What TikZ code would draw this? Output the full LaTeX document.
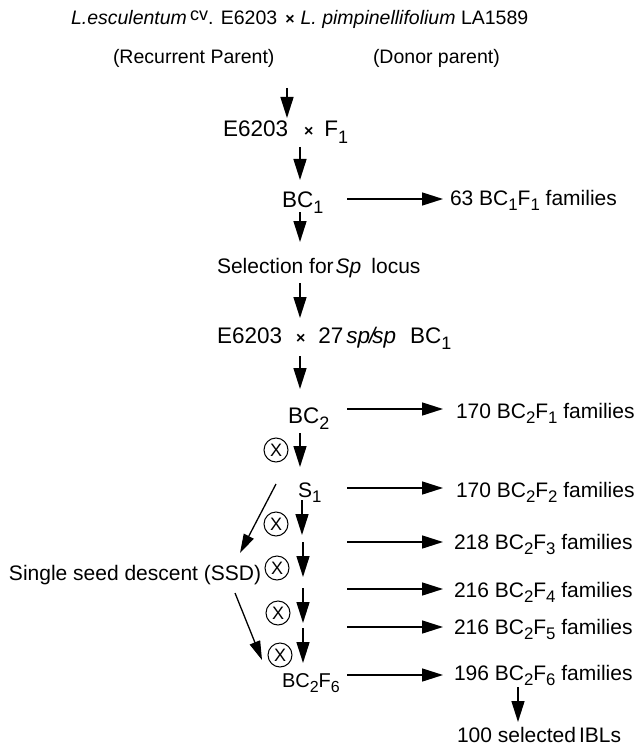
\documentclass[tikz,border=0pt]{standalone}
\usepackage{fontspec}
\setmainfont{Liberation Sans}
\usetikzlibrary{arrows.meta}
\newcommand\lo[1]{\raisebox{-0.27em}{\scalebox{0.8}{#1}}}
\newcommand\fs[1]{\fontsize{#1}{#1}\selectfont}
\newcommand\crs{{\fs{16}\textbf{×}}}
\begin{document}
\begin{tikzpicture}[x=1pt,y=-1pt,
  lbl/.style={anchor=base west, inner sep=0pt, outer sep=0pt},
  toptext/.style={lbl, font=\fs{19.5}},
  midtext/.style={lbl, font=\fs{22.5}},
  famtext/.style={lbl, font=\fs{21}},
  arr/.style={line width=1.5pt, -{Triangle[length=21pt,width=13pt]}},
  diag/.style={line width=1.3pt, -{Triangle[length=19pt,width=11pt]}},
  selfx/.style={circle, draw, line width=1pt, minimum size=24pt, inner sep=0pt, font=\fs{18}}]
\useasboundingbox (0,0) rectangle (634,746);

% texts
\node[toptext] (t1) at (71,25) {\textit{L.esculentum}\,\raisebox{4pt}{\fs{18}cv}. E6203\hspace{8pt}\crs\hspace{6pt}\textit{L. pimpinellifolium} LA1589};
\node[toptext] (rp) at (113,64) {(Recurrent Parent)};
\node[toptext] (dp) at (373,64) {(Donor parent)};
\node[midtext] (ef) at (223,137) {E6203\hspace{16pt}\crs\hspace{11pt}F\lo{1}};
\node[midtext] (bc1) at (282,207) {BC\lo{1}};
\node[famtext] (f1) at (450,205) {63 BC\lo{1}F\lo{1} families};
\node[famtext] (sel) at (217,273) {Selection for\hspace{2pt}\textit{Sp}\hspace{10pt}locus};
\node[midtext] (cr) at (217,343) {E6203\hspace{14pt}\crs\hspace{13pt}27\hspace{3pt}\textit{sp\kern-1pt/\kern-3pt sp}\hspace{14pt}BC\lo{1}};
\node[midtext] (bc2) at (288,423) {BC\lo{2}};
\node[famtext] (f2) at (456,418) {170 BC\lo{2}F\lo{1} families};
\node[famtext] (s1) at (298,497) {S\lo{1}};
\node[famtext] (f3) at (456,497) {170 BC\lo{2}F\lo{2} families};
\node[famtext] (f4) at (454,549) {218 BC\lo{2}F\lo{3} families};
\node[famtext] (ssd) at (9,580) {Single seed descent (SSD)};
\node[famtext] (f5) at (454,597) {216 BC\lo{2}F\lo{4} families};
\node[famtext] (f6) at (454,634) {216 BC\lo{2}F\lo{5} families};
\node[famtext] (f7) at (454,680) {196 BC\lo{2}F\lo{6} families};
\node[lbl,font=\fs{20}] (bcf6) at (282,687) {BC\lo{2}F\lo{6}};
\node[famtext] (ibl) at (457,742) {100 selected\hspace{3pt}IBLs};

% selfing symbols
\node[selfx] (x1) at (276,450) {X};
\node[selfx] (x2) at (276,524) {X};
\node[selfx] (x3) at (277,568) {X};
\node[selfx] (x4) at (278,613) {X};
\node[selfx] (x5) at (280,655) {X};

% vertical arrows
\foreach \n/\x/\a/\b in {v1/287/88/118, v2/300/147/180, v3/300/212/242, v4/300/283/318,
  v5/300/356/389, v6/300/433/467, v7/302/500/535, v8/303/542/577, v9/303/588/623,
  v10/303/628/663, v11/518/687/722}{
  \coordinate (\n s) at (\x,\a);
  \coordinate (\n e) at (\x,\b);
  \draw[arr] (\n s) -- (\n e);
}
% horizontal arrows
\foreach \n/\y in {h1/199, h2/409, h3/488, h4/542, h5/589, h6/627, h7/675}{
  \coordinate (\n s) at (347,\y);
  \coordinate (\n e) at (443,\y);
  \draw[arr] (\n s) -- (\n e);
}
% single seed descent arrows
\coordinate (d1s) at (276,484);
\coordinate (d1e) at (240,553);
\coordinate (d2s) at (235,593);
\coordinate (d2e) at (262,660);
\draw[diag] (d1s) -- (d1e);
\draw[diag] (d2s) -- (d2e);
\end{tikzpicture}
\end{document}
